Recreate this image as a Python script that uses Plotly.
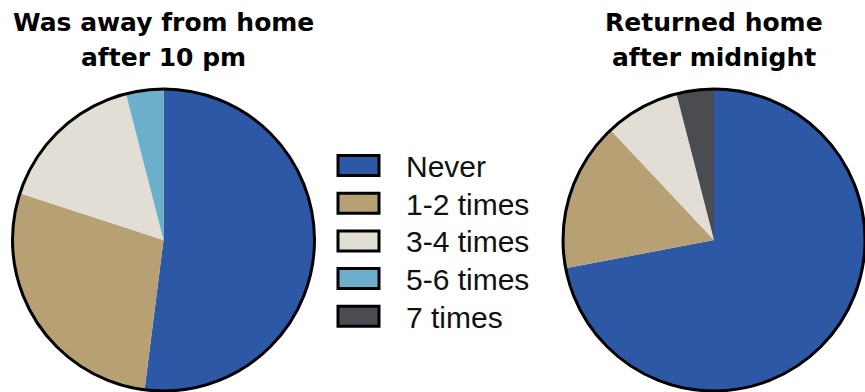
import plotly.graph_objects as go

# Survey answers: how often did it happen
categories = ["Never", "1-2 times", "3-4 times", "5-6 times", "7 times"]
colors = ["#2D58A5", "#B8A075", "#E2DED5", "#6CAFCB", "#4A4C52"]

# Share of respondents (%) per answer
away_after_10pm = [52, 28, 16, 4, 0]
home_after_midnight = [72, 16, 8, 0, 4]

titles_left = ["Was away from home", "after 10 pm"]
titles_right = ["Returned home", "after midnight"]

W, H = 865, 392


def px(x):
    return x / W


def py(y):
    return 1 - y / H


def pie_domain(cx, cy, r):
    return dict(x=[px(cx - r), min(1.0, px(cx + r))], y=[py(cy + r), py(cy - r)])


fig = go.Figure()

shapes = []
annotations = []

pies = [
    (away_after_10pm, 163.5, 240, 151),
    (home_after_midnight, 714, 240, 151),
]

for values, cx, cy, r in pies:
    fig.add_trace(go.Pie(
        labels=categories,
        values=values,
        marker=dict(colors=colors, line=dict(width=0)),
        sort=False,
        direction="clockwise",
        rotation=0,
        textinfo="none",
        hoverinfo="label+percent",
        showlegend=False,
        domain=pie_domain(cx, cy, r),
    ))
    # black rim around the whole pie
    shapes.append(dict(
        type="circle", xref="paper", yref="paper", layer="above",
        x0=px(cx - r), x1=px(cx + r), y0=py(cy + r), y1=py(cy - r),
        fillcolor="rgba(0,0,0,0)",
        line=dict(color="#000000", width=3),
    ))

# Hand-built legend between the two pies
row0, step = 165.5, 37.7
for i, (name, col) in enumerate(zip(categories, colors)):
    yc = row0 + i * step
    shapes.append(dict(
        type="rect", xref="paper", yref="paper",
        x0=px(338), x1=px(379), y0=py(yc + 10), y1=py(yc - 10),
        fillcolor=col, line=dict(color="black", width=3),
    ))
    annotations.append(dict(
        text=name, xref="paper", yref="paper",
        x=px(404), y=py(yc + 1), xanchor="left", yanchor="middle",
        showarrow=False,
        font=dict(family="Liberation Sans, Arial, sans-serif", size=30, color="#111111"),
    ))

title_font = dict(family="DejaVu Sans, sans-serif", size=25, color="#000000", weight="bold")
for cx, lines in [(163.5, titles_left), (714, titles_right)]:
    for yc, line in zip([22, 57], lines):
        annotations.append(dict(
            text=line, xref="paper", yref="paper",
            x=px(cx), y=py(yc), xanchor="center", yanchor="middle",
            showarrow=False, font=title_font,
        ))

fig.update_layout(
    width=W, height=H,
    margin=dict(l=0, r=0, t=0, b=0),
    paper_bgcolor="white",
    plot_bgcolor="white",
    shapes=shapes,
    annotations=annotations,
)

fig.write_html("out.html")
